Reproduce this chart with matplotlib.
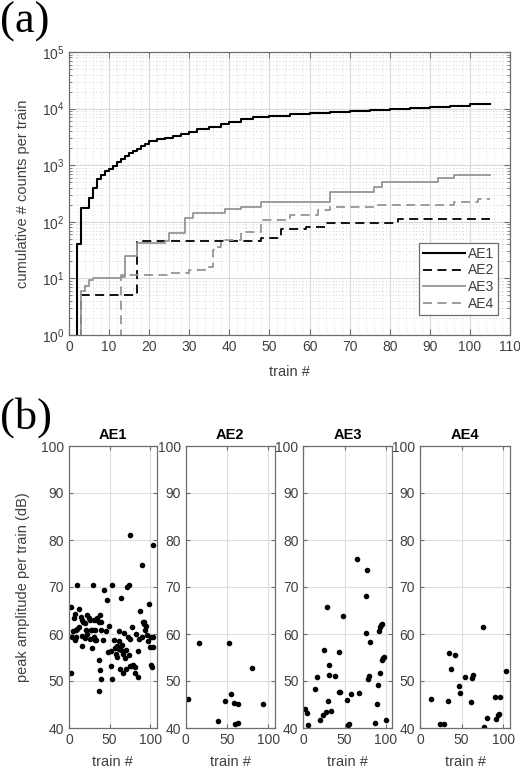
import matplotlib
matplotlib.use('Agg')
import matplotlib.pyplot as plt
from matplotlib.ticker import MultipleLocator, LogLocator, NullFormatter, FixedLocator

plt.rcParams['font.family'] = ['Liberation Sans', 'DejaVu Sans']

# ---------------- (a) cumulative counts ----------------
ae1_train = [1, 2, 3, 5, 6, 7, 8, 9, 10, 11, 12, 13, 14, 15, 16, 17, 18, 19, 20, 22, 24, 26, 28,
             30, 32, 35, 38, 40, 43, 46, 50, 55, 60, 65, 70, 75, 80, 85, 90, 95, 100, 105]
ae1_cum = [0, 40, 178, 265, 400, 560, 680, 780, 850, 980, 1150, 1300, 1450, 1620, 1800, 1950, 2150,
           2400, 2650, 2850, 3050, 3300, 3550, 3900, 4300, 4800, 5400, 5800, 6500, 7100, 7500, 7900,
           8260, 8600, 8900, 9300, 9700, 10100, 10500, 11100, 11900, 12300]

ae2_train = [1, 3, 17, 48, 53, 59, 64, 82, 105]
ae2_cum = [0, 5, 45, 51, 74, 82, 96, 110, 110]

ae3_train = [1, 3, 4, 5, 6, 13, 14, 17, 24, 25, 29, 31, 39, 43, 48, 65, 76, 78, 92, 96, 105]
ae3_cum = [0, 6, 7.3, 9.4, 10.3, 10.7, 25, 43, 45, 64, 116, 141, 167, 186, 226, 340, 417, 510, 585, 670, 670]

ae4_train = [1, 13, 25, 30, 34, 36, 37, 38, 43, 48, 55, 62, 65, 77, 96, 102, 105]
ae4_cum = [0, 11.5, 12.5, 14, 16, 32, 36, 48, 67, 108, 132, 162, 186, 198, 226, 252, 252]

series_labels = ['AE1', 'AE2', 'AE3', 'AE4']

# ---------------- (b) peak amplitude per train ----------------
ae1_x = [2.5, 2, 10, 6, 7.4, 12, 5.3, 8.6, 12.8, 10.3, 14.8, 16.5, 15.6, 17.7, 19.8, 21, 22.6, 24.3, 26,
         22.6, 26, 28.4, 31, 31.3, 30, 28, 35, 34, 36.6, 38, 39, 32, 40, 42.4, 37.4, 38, 39.9, 37,
         43.6, 45.7, 47.3, 49.5, 53, 48.6, 52.3, 51.4, 53.5, 56, 56.8, 58, 58.8, 59.7, 61, 62.1, 61.3,
         63, 63.8, 64.2, 65, 66.3, 67, 68.3, 69, 70, 70.4, 72.4, 71.6, 73.7, 74.5, 75.3, 75.3, 76,
         75.7, 78, 79.4, 81, 80.7, 82.7, 84.4, 85, 86, 87.7, 89.3, 90.5, 91, 91.8, 92.6, 93.4, 94.7,
         96, 96.7, 98, 99.2, 100.8, 100.8, 102, 104, 104, 103, 3.3, 7.4, 8.6, 16, 20, 26.7, 32, 33]
ae1_y = [65.7, 51.7, 70.5, 63.3, 64.3, 65.4, 60.6, 60.9, 61.5, 61.1, 63.6, 59.5, 62.9, 62.6, 62.3, 60.8,
         64, 63.5, 62.9, 60.1, 59, 57.1, 62.9, 59.4, 70.5, 60.9, 63.3, 62.9, 62.6, 64, 60.8, 60.8, 62.6,
         58.7, 54.5, 52.4, 50.4, 47.8, 69.4, 60.6, 67.3, 61.8, 70.5, 56.2, 56.3, 53.2, 50.4, 58.8, 57,
         55.8, 57.4, 55.1, 60.6, 58.6, 56.9, 52.6, 67.7, 56.7, 57.6, 55.8, 51.7, 60.3, 54.8, 52.6, 56.5,
         59.4, 70, 70.4, 55.5, 53.2, 59, 53.2, 81, 61.5, 53.5, 53, 51.6, 60.1, 50.9, 56.4, 58.9, 65,
         59.4, 74.6, 62.6, 62.2, 62.6, 60.8, 61.8, 59.7, 58.6, 66.3, 57.2, 59.4, 53.3, 53, 57.2, 79,
         59.4, 59.4, 58.7, 59.4, 57.4, 59.2, 60.8, 58.8, 58.7]

ae2_x = [2.4, 16.5, 38.7, 47.2, 52, 55.2, 58.5, 62.9, 59.3, 63.7, 80.6, 94]
ae2_y = [46.1, 58, 41.4, 45.8, 58, 47.2, 45.3, 45.1, 40.9, 41, 52.8, 45.1]

ae3_x = [2.5, 5, 6.2, 13.6, 16.9, 20.6, 23.9, 24.7, 27.6, 28.8, 29.6, 30.9, 31.7, 33.7, 38.7, 42.8,
         43.6, 44.9, 47.7, 52.7, 54.7, 56, 57.6, 65, 67.5, 75.7, 76.5, 77.8, 79, 80.2, 81.5, 86.4,
         89.7, 90.5, 91.4, 92.6, 93, 94.2, 95, 96.7, 98.4, 100.8, 95]
ae3_y = [44, 43.2, 40.6, 48.4, 50.8, 41.6, 42.8, 56.5, 43.4, 65.8, 45.8, 53.3, 51.2, 43.7, 51.1, 56.1,
         47.6, 47.7, 63.8, 45.9, 40.6, 40.9, 47.3, 76, 47.4, 60.2, 68, 73.7, 50.4, 51.1, 58.4, 41,
         45.1, 49.2, 60.7, 51.8, 61.4, 61.9, 54.5, 54.8, 55.2, 41.8, 62.1]

ae4_x = [12.6, 23.5, 28.3, 33.6, 35.2, 37.2, 42.5, 46.6, 47.4, 54.3, 61.1, 61.9, 64, 75.7, 76.9, 80.2,
         90.3, 91.1, 93.1, 94.3, 96, 102.8]
ae4_y = [46.1, 40.8, 40.8, 45.8, 55.9, 52.5, 55.6, 49, 47.4, 50.8, 45.5, 50.7, 51.3, 61.4, 40.2, 42.1,
         46.5, 41.9, 42.8, 43, 46.5, 52.2]

W, H = 520, 771
fig = plt.figure(figsize=(W / 100, H / 100), dpi=100)

spine_c = '#6e6e6e'
label_c = '#404040'
tick_fs = 10


def px_axes(l, t, r, b):
    return fig.add_axes([l / W, 1 - b / H, (r - l) / W, (b - t) / H])


def style_axes(ax):
    for s in ax.spines.values():
        s.set_color(spine_c)
        s.set_linewidth(0.9)
    ax.tick_params(which='both', direction='in', top=True, right=True,
                   colors=spine_c, labelcolor=label_c, labelsize=tick_fs)


# ---- top panel ----
ax = px_axes(69, 52, 510, 335)
ax.set_yscale('log', nonpositive='clip')
ax.step(ae1_train, ae1_cum, where='post', color='black', lw=1.5, label=series_labels[0])
ax.step(ae2_train, ae2_cum, where='post', color='black', lw=1.3, ls=(0, (5, 3)), label=series_labels[1])
ax.step(ae3_train, ae3_cum, where='post', color='#959595', lw=1.3, label=series_labels[2])
ax.step(ae4_train, ae4_cum, where='post', color='#959595', lw=1.3, ls=(0, (5, 3)), label=series_labels[3])
ax.set_xlim(0, 110)
ax.set_ylim(1, 1e5)
ax.xaxis.set_major_locator(MultipleLocator(10))
ax.xaxis.set_minor_locator(MultipleLocator(2))
ax.yaxis.set_major_locator(LogLocator(base=10, numticks=10))
ax.yaxis.set_minor_locator(LogLocator(base=10, subs=range(2, 10), numticks=20))
ax.yaxis.set_minor_formatter(NullFormatter())
style_axes(ax)
ax.tick_params(which='major', length=4)
ax.tick_params(axis='y', which='minor', length=2)
ax.tick_params(axis='x', which='minor', length=0)
ax.grid(True, which='major', color='#d9d9d9', lw=0.8, ls='-')
ax.grid(True, which='minor', color='#c8c8c8', lw=0.6, ls=(0, (1, 3)))
ax.set_axisbelow(True)
ax.set_xlabel('train #', fontsize=10.5, color=label_c, labelpad=8)
ax.set_ylabel('cumulative # counts per train', fontsize=10.5, color=label_c)
ax.yaxis.set_label_coords(-0.088, 0.5)
leg = ax.legend(loc='lower right', bbox_to_anchor=(0.973, 0.07), borderaxespad=0, fontsize=10,
                handlelength=3.0, handletextpad=0.2, labelspacing=0.2, fancybox=False,
                framealpha=1, edgecolor=spine_c, borderpad=0.3)
leg.get_frame().set_linewidth(0.9)
for t in leg.get_texts():
    t.set_color(label_c)

fig.text(0.0, 1 - 22 / H, '(a)', fontsize=32, family='Liberation Serif', ha='left', va='center')
fig.text(0.0, 1 - 418 / H, '(b)', fontsize=32, family='Liberation Serif', ha='left', va='center')

# ---- bottom panels ----
panel_px = [(69, 156.7), (185.7, 275), (303.3, 392.3), (420, 510)]
xs = [ae1_x, ae2_x, ae3_x, ae4_x]
ys = [ae1_y, ae2_y, ae3_y, ae4_y]
for i, (l, r) in enumerate(panel_px):
    a = px_axes(l, 446, r, 728)
    a.plot(xs[i], ys[i], 'o', color='black', ms=3.0, mec='black')
    a.set_xlim(0, 108)
    a.set_ylim(40, 100)
    a.xaxis.set_major_locator(FixedLocator([0, 50, 100]))
    a.yaxis.set_major_locator(MultipleLocator(10))
    style_axes(a)
    a.tick_params(length=3)
    a.grid(True, color='#dedede', lw=0.8)
    a.set_axisbelow(True)
    a.set_title(series_labels[i], fontsize=10.5, fontweight='bold', pad=5)
    a.set_xlabel('train #', fontsize=10.5, color=label_c, labelpad=6)
    if i == 0:
        a.set_ylabel('peak amplitude per train (dB)', fontsize=10.5, color=label_c)
        a.yaxis.set_label_coords(-0.445, 0.5)

fig.savefig('out.png', dpi=100)
